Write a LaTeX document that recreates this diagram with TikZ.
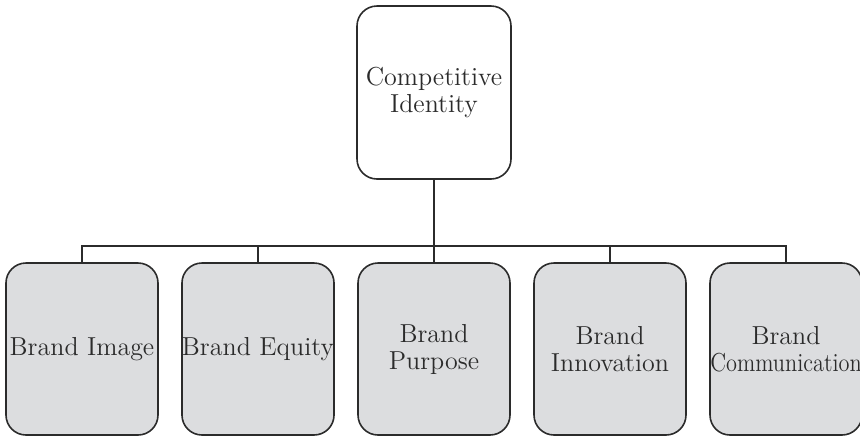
\documentclass[tikz,border=0pt]{standalone}
\usepackage{xcolor}
\usepackage{tikz}

\definecolor{boxgray}{HTML}{DCDDDF}
\definecolor{ink}{HTML}{2B2B2B}

\tikzset{
  topbox/.style={draw=ink, line width=0.8pt, rounded corners=10pt, fill=white,
    minimum width=77pt, minimum height=86.5pt, inner sep=0pt, align=center,
    text=ink, font=\fontsize{13}{13.5}\selectfont},
  brandbox/.style={draw=ink, line width=0.8pt, rounded corners=10pt, fill=boxgray,
    minimum width=76pt, minimum height=86pt, inner sep=0pt, align=center,
    text=ink, font=\fontsize{13}{13.5}\selectfont},
  conn/.style={draw=ink, line width=1.3pt}
}

\begin{document}
\begin{tikzpicture}[x=0.5pt, y=-0.5pt]

    % Canvas
    \useasboundingbox (0,0) rectangle (860,436);

    % Top box
    \node[topbox] (comp) at (434,92.5) {Competitive\\Identity};

    % Bottom boxes
    \node[brandbox] (img)   at (82,349)  {Brand Image};
    \node[brandbox] (eq)    at (258,349) {Brand Equity};
    \node[brandbox] (purp)  at (434,349) {Brand\\Purpose};
    \node[brandbox] (innov) at (610,349) {Brand\\Innovation};
    \node[brandbox] (comm)  at (786,349) {Brand\\\scalebox{0.86}[1]{Communication}};

    % Bus line
    \coordinate (bus) at (0,246);

    % Connectors
    \draw[conn] (comp.south) -- (comp.south |- bus) -| (img.north);
    \draw[conn] (comp.south |- bus) -| (eq.north);
    \draw[conn] (comp.south) -- (purp.north);
    \draw[conn] (comp.south |- bus) -| (innov.north);
    \draw[conn] (comp.south |- bus) -| (comm.north);

\end{tikzpicture}
\end{document}
